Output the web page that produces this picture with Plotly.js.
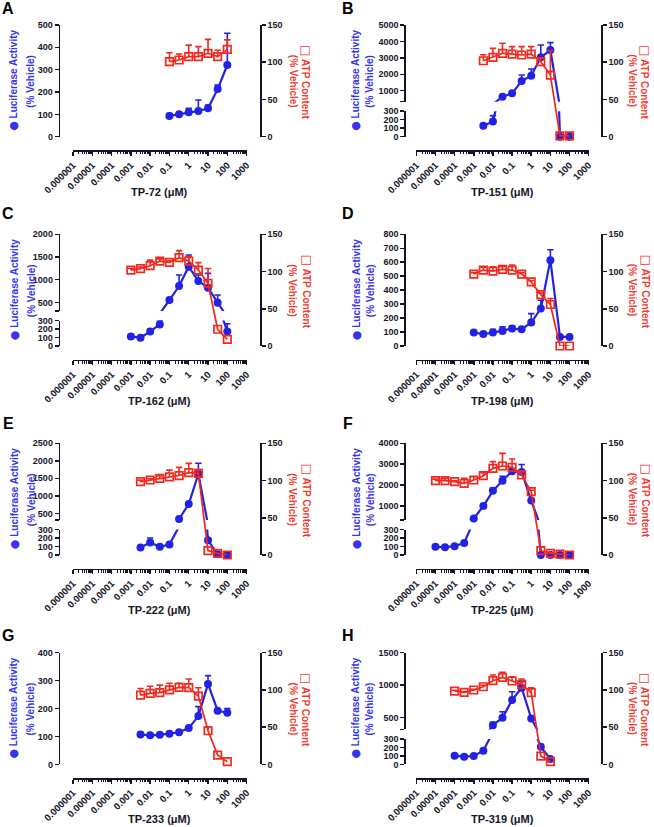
<!DOCTYPE html>
<html><head><meta charset="utf-8">
<script src="https://cdn.plot.ly/plotly-3.0.1.min.js"></script>
<style>html,body{margin:0;padding:0;background:#fff}#chart{width:654px;height:827px}</style>
</head><body><div id="chart"></div>
<script>
// ---------------- data ----------------
const xTickVals = [1e-6, 1e-5, 1e-4, 1e-3, 0.01, 0.1, 1, 10, 100, 1000];
const xTickText = ['0.000001','0.00001','0.0001','0.001','0.01','0.1','1','10','100','1000'];
const atpTicks = [0, 50, 100, 150];
const lowerTicks = [0, 100, 200, 300];

const concA = [0.1, 0.316, 1, 3.16, 10, 31.6, 100];
const lucA = [93, 101, 109, 115, 127, 213, 321];
const lucErrA = [11, 5, 18, 49, 15, 18, 142];
const atpA = [100.7, 103, 107.5, 107.5, 112, 107.5, 117.3];
const atpErrA = [12, 8, 15.5, 13.5, 18.7, 8.5, 12.7];
const lucTicksA = [0, 100, 200, 300, 400, 500];

const concB = [0.00316, 0.01, 0.0316, 0.1, 0.316, 1, 3.16, 10, 31.6, 100];
const lucB = [128, 180, 635, 838, 1589, 1914, 3030, 3477, 0, 0];
const lucErrB = [10, 68, 40, 40, 365, 408, 750, 447, 0, 0];
const atpB = [102, 106.6, 112, 111, 109.7, 111, 100.8, 82.8, 1, 1];
const atpErrB = [8, 12, 13.4, 10, 11.3, 10, 5, 33, 0, 0];
const lucTicksB = [1000, 2000, 3000, 4000, 5000];
const brkB = 330;

const concC = [0.001, 0.00316, 0.01, 0.0316, 0.1, 0.316, 1, 3.16, 10, 31.6, 100];
const lucC = [113, 97, 171, 253, 551, 860, 1287, 970, 823, 493, 171];
const lucErrC = [5, 5, 24, 47, 20, 243, 257, 133, 317, 169, 90];
const atpC = [102, 104, 107.8, 114, 112.3, 118.6, 114, 102, 84, 22.5, 9];
const atpErrC = [2, 2, 7.5, 3, 2, 9.5, 6, 10, 20, 0, 0];
const lucTicksC = [500, 1000, 1500, 2000];
const brkC = 310;

const concD = [0.001, 0.00316, 0.01, 0.0316, 0.1, 0.316, 1, 3.16, 10, 31.6, 100];
const lucD = [96, 86, 96, 108, 125, 120, 168, 268, 615, 65, 65];
const lucErrD = [3, 3, 24, 29, 19, 3, 64, 60, 74, 3, 3];
const atpD = [96.6, 102, 100.6, 102.8, 102, 96.6, 86, 69, 55.7, 0, 0];
const atpErrD = [2, 3.8, 5.9, 3.7, 6.7, 2, 2, 2, 8.1, 0, 0];
const lucTicksD = [0, 100, 200, 300, 400, 500, 600, 700, 800];

const concE = [0.00316, 0.01, 0.0316, 0.1, 0.316, 1, 3.16, 10, 31.6, 100];
const lucE = [88, 146, 96, 123, 335, 767, 1624, 173, 8, 0];
const lucErrE = [5, 54, 5, 5, 10, 20, 305, 5, 0, 0];
const atpE = [98.5, 100.7, 103, 105, 106.7, 110.6, 109.7, 5.8, 2.2, 0];
const atpErrE = [2, 2, 3, 9, 11, 12.4, 5, 0, 0, 0];
const lucTicksE = [500, 1000, 1500, 2000, 2500];
const brkE = 310;

const concF = [1e-5, 3.16e-5, 1e-4, 3.16e-4, 0.001, 0.00316, 0.01, 0.0316, 0.1, 0.316, 1, 3.16, 10, 31.6, 100];
const lucF = [96, 92, 104, 142, 400, 1000, 1726, 2210, 2661, 2629, 1258, 0, 0, 0, 0];
const lucErrF = [3, 3, 3, 10, 10, 30, 130, 210, 80, 355, 20, 0, 0, 0, 0];
const atpF = [99.9, 99.9, 98.5, 96.3, 100.7, 106.5, 116.4, 119.5, 117.8, 107.5, 85, 5.8, 2.2, 1.3, 0];
const atpErrF = [2, 3, 1, 6.7, 4.3, 4.1, 9, 17, 11.2, 4.5, 2, 5.2, 1, 0, 0];
const lucTicksF = [1000, 2000, 3000, 4000];
const brkF = 330;

const concG = [0.00316, 0.01, 0.0316, 0.1, 0.316, 1, 3.16, 10, 31.6, 100];
const lucG = [107, 104, 106, 110, 115, 130, 173, 288, 192, 185];
const lucErrG = [3, 3, 3, 3, 3, 5, 34, 30, 3, 15];
const atpG = [93, 95.4, 96.3, 100, 103.4, 103, 91.8, 45.2, 12.5, 3.6];
const atpErrG = [9, 9.6, 10.2, 9, 5.6, 11.6, 11.2, 5.4, 0, 0];
const lucTicksG = [0, 100, 200, 300, 400];

const concH = [1e-4, 3.16e-4, 0.001, 0.00316, 0.01, 0.0316, 0.1, 0.316, 1, 3.16, 10];
const lucH = [103, 91, 99, 162, 381, 495, 768, 959, 485, 209, 63];
const lucErrH = [3, 3, 3, 10, 42, 93, 129, 93, 10, 5, 5];
const atpH = [98.5, 96.7, 99.9, 104.3, 112.4, 116.9, 112, 107.5, 96.3, 11.2, 3.6];
const atpErrH = [1, 1, 1, 2, 7.6, 6.7, 5.8, 7.1, 6.7, 0, 0];
const lucTicksH = [500, 1000, 1500];
const brkH = 315;

const panels = [
  {label:'A', drug:'TP-72',  conc:concA, luc:lucA, lucErr:lucErrA, atp:atpA, atpErr:atpErrA, ticks:lucTicksA, brk:null},
  {label:'B', drug:'TP-151', conc:concB, luc:lucB, lucErr:lucErrB, atp:atpB, atpErr:atpErrB, ticks:lucTicksB, brk:brkB},
  {label:'C', drug:'TP-162', conc:concC, luc:lucC, lucErr:lucErrC, atp:atpC, atpErr:atpErrC, ticks:lucTicksC, brk:brkC},
  {label:'D', drug:'TP-198', conc:concD, luc:lucD, lucErr:lucErrD, atp:atpD, atpErr:atpErrD, ticks:lucTicksD, brk:null},
  {label:'E', drug:'TP-222', conc:concE, luc:lucE, lucErr:lucErrE, atp:atpE, atpErr:atpErrE, ticks:lucTicksE, brk:brkE},
  {label:'F', drug:'TP-225', conc:concF, luc:lucF, lucErr:lucErrF, atp:atpF, atpErr:atpErrF, ticks:lucTicksF, brk:brkF},
  {label:'G', drug:'TP-233', conc:concG, luc:lucG, lucErr:lucErrG, atp:atpG, atpErr:atpErrG, ticks:lucTicksG, brk:null},
  {label:'H', drug:'TP-319', conc:concH, luc:lucH, lucErr:lucErrH, atp:atpH, atpErr:atpErrH, ticks:lucTicksH, brk:brkH}
];

// ---------------- layout geometry ----------------
const W = 654, H = 827, PH = 111.7;
const FONT = '"Liberation Sans", Arial, sans-serif';
const AX = '#15152a', BLUE = '#2222e6', RED = '#f2281e';
const BLUE_T = '#3535ee', RED_T = '#f23a30';
const COLS = [
  {yl:58.7, yr:260, x0:73, x1:246.6, letter:8, t1:14, t2:31, r1:306.5, r2:293},
  {yl:404.3, yr:601, x0:416.3, x1:588.7, letter:348, t1:356, t2:370, r1:645.5, r2:632.5}
];
const ROWS = [{top:25, letter:8.5}, {top:234.3, letter:214}, {top:443.3, letter:423.5}, {top:652.7, letter:635.5}];
const px = v => v / W, py = v => 1 - v / H;

const minorVals = [];
for (let d = -6; d < 3; d++) for (let k = 2; k < 10; k++) minorVals.push(k * Math.pow(10, d));

const traces = [];
const layout = {width:W, height:H, margin:{l:0,r:0,t:0,b:0}, paper_bgcolor:'#fff',
  plot_bgcolor:'rgba(0,0,0,0)', showlegend:false, annotations:[]};

function axCommon(size) {
  return {showgrid:false, zeroline:false, showline:true, linecolor:AX, linewidth:1.7,
    ticks:'outside', ticklen:4, tickwidth:1.5, tickcolor:AX, tickmode:'array',
    tickfont:{family:FONT, size:size, color:AX, weight:'bold'}, anchor:'free', fixedrange:true};
}
function ann(text, x, y, size, color, angle) {
  layout.annotations.push({text:text, x:px(x), y:py(y), xref:'paper', yref:'paper', showarrow:false,
    xanchor:'center', yanchor:'middle', textangle:angle || 0,
    font:{family:FONT, size:size, color:color, weight:'bold'}});
}
function addSeries(p, vals, errs, xid, yid, lo, hi, isBlue) {
  const color = isBlue ? BLUE : RED;
  const inR = vals.map(v => v >= lo && v <= hi);
  traces.push({type:'scatter', mode:'lines+markers', x:p.conc, y:vals, xaxis:xid, yaxis:yid, cliponaxis:false,
    line:{color:color, width:isBlue ? 2.2 : 1.7},
    marker: isBlue ? {symbol:'circle', size:8, color:BLUE}
                   : {symbol:'square-open', size:7.5, color:RED, line:{color:RED, width:1.7}},
    error_y:{type:'data', symmetric:false, visible:true,
      array: errs.map((e,k) => (inR[k] && e > 0) ? e : NaN),
      arrayminus: errs.map(() => 0), color:color, thickness:1.6, width:0},
    hoverinfo:'skip'});
  // caps on top of error bars
  traces.push({type:'scatter', mode:'markers', x:p.conc,
    y: vals.map((v,k) => (inR[k] && errs[k] > 0) ? v + errs[k] : NaN),
    xaxis:xid, yaxis:yid, cliponaxis:false, marker:{size:1, opacity:0},
    error_y:{type:'data', array: errs.map(() => 0), visible:true, color:color, thickness:1.6, width:3.2},
    hoverinfo:'skip'});
}

let yn = 0;
panels.forEach((p, i) => {
  const col = COLS[i % 2], row = ROWS[i >> 1];
  const T = row.top, Z = T + PH;
  const xn = i + 1, xs = xn === 1 ? '' : String(xn);
  layout['xaxis' + xs] = Object.assign(axCommon(9.5), {
    type:'log', range:[-6, 3], domain:[px(col.x0), px(col.x1)], position:py(Z + 13.5),
    tickvals:xTickVals, ticktext:xTickText, tickangle:-45,
    minor:{tickmode:'array', tickvals:minorVals, ticks:'outside', ticklen:2.4, tickwidth:1, tickcolor:AX}
  });
  const maxV = p.ticks[p.ticks.length - 1];
  const segs = p.brk == null
    ? [{lo:0, hi:maxV, top:T, bot:Z, tv:p.ticks, tt:p.ticks.map(String)}]
    : [{lo:0, hi:300, top:Z - 25.5, bot:Z, tv:lowerTicks, tt:lowerTicks.map(String)},
       {lo:p.brk, hi:maxV, top:T, bot:T + 76.7, tv:[p.brk].concat(p.ticks), tt:[''].concat(p.ticks.map(String))}];
  segs.forEach(s => {
    yn++;
    const ys = yn === 1 ? '' : String(yn);
    layout['yaxis' + ys] = Object.assign(axCommon(9), {
      domain:[py(s.bot), py(s.top)], range:[s.lo, s.hi], position:px(col.yl), side:'left',
      tickvals:s.tv, ticktext:s.tt});
    addSeries(p, p.luc, p.lucErr, 'x' + xs, 'y' + ys, s.lo, s.hi, true);
  });
  yn++;
  layout['yaxis' + yn] = Object.assign(axCommon(9), {
    domain:[py(Z), py(T)], range:[0, 150], position:px(col.yr), side:'right',
    tickvals:atpTicks, ticktext:atpTicks.map(String)});
  addSeries(p, p.atp, p.atpErr, 'x' + xs, 'y' + yn, 0, 150, false);

  // texts
  const mid = T + PH / 2;
  ann(p.label, col.letter, row.letter, 16, '#000', 0);
  ann('<span style="font-family:DejaVu Sans;font-size:11px">\u25CF</span> Luciferase Activity', col.t1, mid, 10, BLUE_T, -90);
  ann('(% Vehicle)', col.t2, mid + 1, 10, BLUE_T, -90);
  ann('<span style="font-family:DejaVu Sans;font-size:12px">\u25A1</span> ATP Content', col.r1, mid + 1, 10, RED_T, 90);
  ann('(% Vehicle)', col.r2, mid, 10, RED_T, 90);
  ann(p.drug + ' (\u03BCM)', (col.x0 + col.x1) / 2, Z + 55, 11, AX, 0);
});

Plotly.newPlot('chart', traces, layout, {staticPlot:true, displayModeBar:false});
</script></body></html>
